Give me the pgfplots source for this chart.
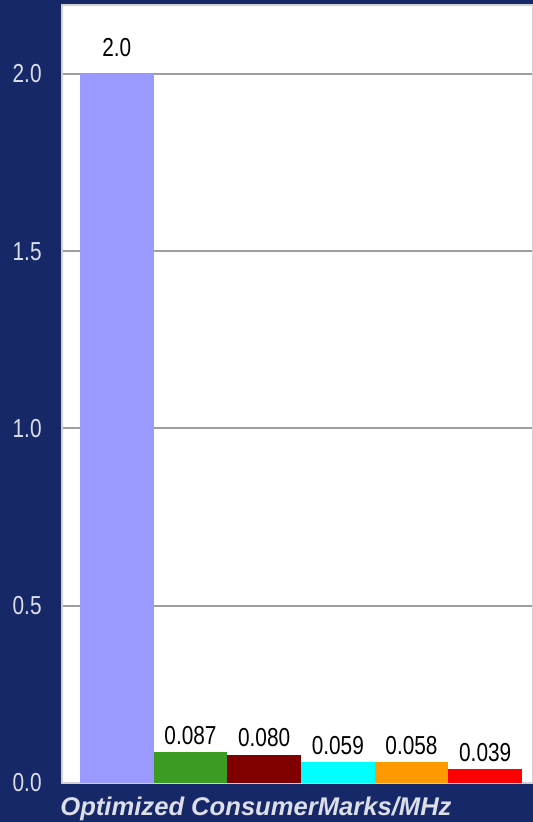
\documentclass[border=0pt]{standalone}
\usepackage{pgfplots}
\pgfplotsset{compat=1.18}
\usepackage{fontspec}
\setmainfont{Liberation Sans}
\newfontfamily\narrow{Liberation Sans}[FakeStretch=0.8]
\definecolor{navy}{RGB}{22,40,104}
\definecolor{lav}{RGB}{153,153,255}
\definecolor{grn}{RGB}{60,155,34}
\definecolor{drd}{RGB}{128,0,0}
\definecolor{cyn}{RGB}{0,255,255}
\definecolor{org}{RGB}{255,153,0}
\definecolor{rd}{RGB}{255,0,0}
\definecolor{tickc}{RGB}{220,222,232}
\begin{document}
\begin{tikzpicture}
\fill[navy] (0,0) rectangle (266.5pt,411pt);
\path[use as bounding box] (0,0) rectangle (266.5pt,411pt);
\begin{axis}[
  scale only axis,
  width=235.5pt, height=389pt,
  at={(31pt,19.5pt)}, anchor=south west,
  xmin=-0.744, xmax=5.649,
  ymin=0, ymax=2.1946,
  axis background/.style={fill=white},
  axis line style={draw=black!18, line width=1pt},
  xtick=\empty,
  ytick={0,0.5,1,1.5,2},
  major tick length=0pt,
  ymajorgrids,
  grid style={draw=black!38, line width=1pt},
  /pgf/number format/assume math mode=true,
  yticklabel={\pgfmathprintnumber[fixed,fixed zerofill,precision=1]{\tick}},
  yticklabel style={anchor=east, inner sep=0pt, xshift=-10pt, text=tickc, font=\narrow\fontsize{13}{15}\selectfont},
  xlabel={Optimized ConsumerMarks/MHz},
  xlabel style={at={(rel axis cs:0,0)}, anchor=north west, inner sep=0pt, yshift=-7pt, xshift=-1pt, text=tickc, font=\bfseries\itshape\fontsize{12.8}{14}\selectfont},
  nodes near coords,
  point meta=explicit symbolic,
  nodes near coords style={anchor=south, inner sep=0pt, yshift=3.5pt, text=black, font=\narrow\fontsize{13}{15}\selectfont},
]
\addplot[ybar, bar width=1, bar shift=0, fill=lav, draw=none, nodes near coords style={yshift=5pt}] coordinates {(0,2.0)[2.0]};
\addplot[ybar, bar width=1, bar shift=0, fill=grn, draw=none] coordinates {(1,0.087)[0.087]};
\addplot[ybar, bar width=1, bar shift=0, fill=drd, draw=none] coordinates {(2,0.080)[0.080]};
\addplot[ybar, bar width=1, bar shift=0, fill=cyn, draw=none] coordinates {(3,0.059)[0.059]};
\addplot[ybar, bar width=1, bar shift=0, fill=org, draw=none] coordinates {(4,0.058)[0.058]};
\addplot[ybar, bar width=1, bar shift=0, fill=rd, draw=none] coordinates {(5,0.039)[0.039]};
\end{axis}
\end{tikzpicture}
\end{document}
